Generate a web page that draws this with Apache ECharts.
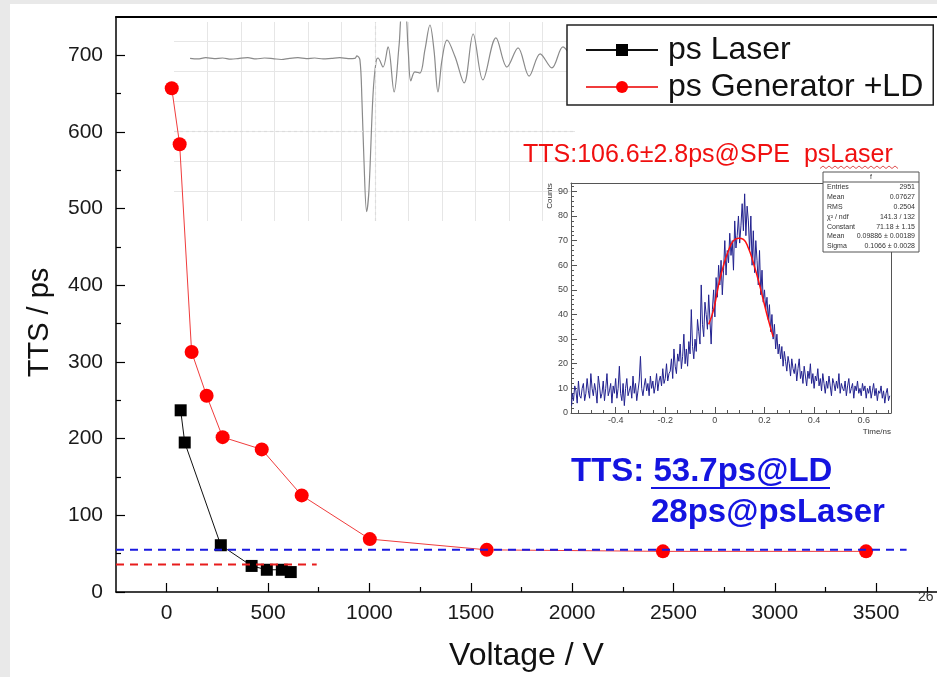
<!DOCTYPE html>
<html><head><meta charset="utf-8">
<script src="https://cdn.jsdelivr.net/npm/echarts@6/dist/echarts.min.js"></script>
<style>html,body{margin:0;padding:0;background:#fff}#c{width:937px;height:677px}</style>
</head><body><div id="c"></div>
<script>
// ---- main chart data ----
const laserVoltage = [69, 89, 267, 419, 494, 568, 612];
const laserTTS     = [237, 195, 61, 34, 29, 29, 26];
const genVoltage   = [25, 64, 123, 197, 276, 469, 666, 1002, 1579, 2448, 3450];
const genTTS       = [657, 584, 313, 256, 202, 186, 126, 69, 55, 53, 53];
const blueRefX = [-250, 3650];
const blueRefY = [55, 55];
const redRefX  = [-250, 740];
const redRefY  = [36, 36];
const xTickLabels = [0, 500, 1000, 1500, 2000, 2500, 3000, 3500];
const xMinorTicks = [250, 750, 1250, 1750, 2250, 2750, 3250, 3750];
const yTickLabels = [0, 100, 200, 300, 400, 500, 600, 700];
const yMinorTicks = [50, 150, 250, 350, 450, 550, 650];

// ---- waveform inset (oscilloscope divisions) ----
const waveX = [-5.52,-5.3,-5.05,-4.8,-4.55,-4.3,-4.05,-3.8,-3.55,-3.3,-3.05,-2.8,-2.55,-2.3,-2.05,-1.8,-1.55,-1.3,-1.05,-0.8,-0.6,
  -0.54,-0.45,-0.39,-0.33,-0.25,-0.18,-0.06,0.03,0.09,0.24,0.39,0.57,0.72,0.81,0.9,0.99,1.07,1.19,1.34,1.49,1.64,1.76,1.88,2.0,2.15,2.39,2.66,2.93,3.22,3.61,3.94,4.27,4.6,4.93,5.28,5.61,5.82];
const waveY = [2.42,2.40,2.44,2.41,2.43,2.39,2.42,2.44,2.40,2.43,2.41,2.38,2.42,2.44,2.41,2.43,2.40,2.42,2.44,2.41,2.42,
  2.5,2.37,1.03,-0.97,-2.69,-1.97,1.2,2.3,2.43,2.13,2.8,1.3,2.87,4.0,4.0,2.7,1.67,1.97,1.93,2.7,3.53,2.7,1.3,2.37,3.03,2.47,1.6,3.23,1.7,3.1,2.13,2.77,1.83,2.57,2.1,2.8,2.53];

// ---- histogram inset ----
const histMin = -0.58;
const histBinWidth = 0.005;
const histCounts = [
  3,8,5,11,9,4,13,7,6,10,12,5,8,14,9,6,16,10,7,12,
  9,4,15,11,6,8,13,5,10,16,7,9,12,4,11,8,14,6,10,19,
  8,5,12,3,10,14,7,9,11,6,15,8,12,5,9,13,23,10,7,11,
  14,9,12,7,15,10,13,8,11,16,9,13,15,11,18,12,14,20,13,16,
  17,22,14,26,19,16,24,21,28,18,23,32,20,26,19,29,24,42,27,22,
  30,25,38,33,28,52,36,31,45,40,34,48,38,28,42,50,39,55,47,60,
  52,62,48,58,70,56,66,61,73,64,70,58,78,67,72,80,69,76,85,74,
  89,72,84,78,66,80,60,74,57,70,62,52,66,48,58,45,50,42,47,38,
  44,33,40,30,36,26,32,24,28,22,27,19,25,21,17,23,20,15,22,18,
  16,20,13,18,22,14,17,12,19,15,11,17,14,20,12,16,10,15,13,18,
  11,14,9,16,12,8,13,10,15,11,7,14,12,9,13,10,16,8,12,10,
  9,13,7,11,14,8,10,12,6,11,9,13,8,10,7,12,9,11,6,10,
  8,11,6,9,12,7,10,5,9,8,11,6,9,4,8,10,5,7];
const fitX = [-0.025,-0.005,0.015,0.035,0.055,0.075,0.095,0.115,0.135,0.155,0.175,0.195,0.215,0.235];
const fitY = [36,42,52,60,66,70,71,70.5,67,61,54,46,38,31];
const histXLabels = [-0.4,-0.2,0,0.2,0.4,0.6];
const histYLabels = [0,10,20,30,40,50,60,70,80,90];
const statsLabels = ['Entries','Mean','RMS','\u03c7\u00b2 / ndf','Constant','Mean','Sigma'];
const statsValues = ['2951','0.07627','0.2504','141.3 / 132','71.18 \u00b1 1.15','0.09886 \u00b1 0.00189','0.1066 \u00b1 0.0028'];

const FONT = '"Liberation Sans", Arial, Helvetica, sans-serif';
const zip = (a, b) => a.map((v, i) => [v, b[i]]);
const histData = histCounts.map((c, i) => [histMin + histBinWidth * (i + 0.5), c]);
const histXMinor = [];
for (let v = -55; v <= 70; v += 5) { if (v % 20 !== 0) histXMinor.push(v / 100); }
const histYMinor = [];
for (let v = 2; v <= 92; v += 2) { if (v % 10 !== 0) histYMinor.push(v); }
const plain = v => String(v);

const chart = echarts.init(document.getElementById('c'), null, {renderer: 'canvas'});

const graphics = [
  {type: 'rect', shape: {x: 0, y: 0, width: 10, height: 677}, style: {fill: '#e9e9e9'}, z: 0},
  {type: 'rect', shape: {x: 0, y: 0, width: 937, height: 4}, style: {fill: '#e9e9e9'}, z: 0},
  {type: 'text', x: 523, y: 155, z: 100, style: {text: 'TTS:106.6\u00b12.8ps@SPE  psLaser', fill: '#f01010', font: '25px ' + FONT, verticalAlign: 'middle'}},
  {type: 'text', x: 571, y: 472, z: 100, style: {text: 'TTS: 53.7ps@LD', fill: '#1414e0', font: 'bold 33px ' + FONT, verticalAlign: 'middle'}},
  {type: 'line', z: 100, shape: {x1: 651, y1: 488, x2: 830, y2: 488}, style: {stroke: '#1414e0', lineWidth: 2}},
  {type: 'text', x: 651, y: 513, z: 100, style: {text: '28ps@psLaser', fill: '#1414e0', font: 'bold 33px ' + FONT, verticalAlign: 'middle'}},
  {type: 'text', x: 918, y: 597, z: 100, style: {text: '26', fill: '#333', font: '14px ' + FONT, verticalAlign: 'middle'}},
  {type: 'text', x: 550, y: 196, z: 100, rotation: Math.PI / 2, style: {text: 'Counts', fill: '#333', font: '8px ' + FONT, align: 'center', verticalAlign: 'middle'}},
  {type: 'text', x: 891, y: 432, z: 100, style: {text: 'Time/ns', fill: '#333', font: '8px ' + FONT, align: 'right', verticalAlign: 'middle'}},
  {type: 'rect', z: 100, shape: {x: 823, y: 172, width: 96, height: 80}, style: {fill: '#fff', stroke: '#555', lineWidth: 1}},
  {type: 'line', z: 100, shape: {x1: 823, y1: 182, x2: 919, y2: 182}, style: {stroke: '#555', lineWidth: 1}},
  {type: 'text', x: 871, y: 177, z: 101, style: {text: 'f', fill: '#333', font: '7px ' + FONT, align: 'center', verticalAlign: 'middle'}}
];
// wavy spell-check underline under "psLaser"
const wavy = [];
for (let i = 0; i <= 26; i++) wavy.push([820 + i * 3, i % 2 ? 166 : 168.5]);
graphics.push({type: 'polyline', z: 100, shape: {points: wavy}, style: {stroke: '#e05050', lineWidth: 1, fill: null}});
statsLabels.forEach((t, i) => {
  graphics.push({type: 'text', x: 827, y: 187.5 + i * 9.8, z: 101, style: {text: t, fill: '#333', font: '7px ' + FONT, verticalAlign: 'middle'}});
  graphics.push({type: 'text', x: 915, y: 187.5 + i * 9.8, z: 101, style: {text: statsValues[i], fill: '#333', font: '7px ' + FONT, align: 'right', verticalAlign: 'middle'}});
});

const noLine = {show: false};
const option = {
  backgroundColor: '#fff',
  animation: false,
  textStyle: {fontFamily: FONT},
  grid: [
    {left: 116, top: 17, right: 0, bottom: 84},
    {left: 174, top: 22, width: 401, height: 199},
    {left: 571, top: 183, width: 320, height: 230}
  ],
  legend: {
    data: ['ps Laser', 'ps Generator +LD'],
    orient: 'vertical', left: 567, top: 25,
    backgroundColor: '#fff', borderColor: '#222', borderWidth: 1.5,
    padding: [8, 10, 1, 18], itemWidth: 72, itemHeight: 15, itemGap: 3,
    textStyle: {fontSize: 32, color: '#111', fontFamily: FONT, lineHeight: 34, padding: [0, 0, 0, 5]},
    z: 50
  },
  xAxis: [
    {type: 'value', gridIndex: 0, min: -250, max: 3800, position: 'bottom',
     name: 'Voltage / V', nameLocation: 'middle', nameGap: 48,
     nameTextStyle: {fontSize: 32, color: '#111', fontFamily: FONT},
     axisLine: {onZero: false, lineStyle: {color: '#000', width: 1.5}},
     axisTick: {inside: true, length: 9, customValues: xTickLabels, lineStyle: {color: '#000', width: 1.2}},
     axisLabel: {customValues: xTickLabels, formatter: plain, fontSize: 21, color: '#1a1a1a', margin: 11, fontFamily: FONT},
     splitLine: noLine},
    {type: 'value', gridIndex: 0, min: -250, max: 3800, position: 'bottom',
     axisLine: {show: false, onZero: false}, axisLabel: noLine, splitLine: noLine,
     axisTick: {inside: true, length: 5, customValues: xMinorTicks, lineStyle: {color: '#000', width: 1.2}}},
    {type: 'value', gridIndex: 0, min: -250, max: 3800, position: 'top',
     axisLine: {onZero: false, lineStyle: {color: '#000', width: 2}}, axisTick: noLine, axisLabel: noLine, splitLine: noLine},
    {type: 'value', gridIndex: 1, min: -6, max: 5.97, interval: 1,
     axisLine: {show: false, onZero: false}, axisTick: noLine, axisLabel: noLine,
     splitLine: {show: true, showMinLine: false, showMaxLine: false, lineStyle: {color: '#e6e6e6', width: 1}}},
    {type: 'value', gridIndex: 2, min: -0.58, max: 0.71, position: 'bottom',
     axisLine: {onZero: false, lineStyle: {color: '#555', width: 1}},
     axisTick: {inside: true, length: 6, customValues: histXLabels, lineStyle: {color: '#555'}},
     axisLabel: {customValues: histXLabels, fontSize: 9, color: '#444', margin: 3, fontFamily: FONT},
     splitLine: noLine},
    {type: 'value', gridIndex: 2, min: -0.58, max: 0.71, position: 'bottom',
     axisLine: {show: false, onZero: false}, axisLabel: noLine, splitLine: noLine,
     axisTick: {inside: true, length: 3, customValues: histXMinor, lineStyle: {color: '#555'}}},
    {type: 'value', gridIndex: 2, min: -0.58, max: 0.71, position: 'top',
     axisLine: {onZero: false, lineStyle: {color: '#555', width: 1}}, axisTick: noLine, axisLabel: noLine, splitLine: noLine}
  ],
  yAxis: [
    {type: 'value', gridIndex: 0, min: 0, max: 750, position: 'left',
     name: 'TTS / ps', nameLocation: 'middle', nameGap: 62, nameRotate: 90,
     nameTextStyle: {fontSize: 29, color: '#111', fontFamily: FONT, padding: [0, 36, 0, 0]},
     axisLine: {onZero: false, lineStyle: {color: '#000', width: 1.5}},
     axisTick: {inside: true, length: 9, customValues: yTickLabels, lineStyle: {color: '#000', width: 1.2}},
     axisLabel: {customValues: yTickLabels, formatter: plain, fontSize: 21, color: '#1a1a1a', margin: 13, fontFamily: FONT},
     splitLine: noLine},
    {type: 'value', gridIndex: 0, min: 0, max: 750, position: 'left',
     axisLine: {show: false, onZero: false}, axisLabel: noLine, splitLine: noLine,
     axisTick: {inside: true, length: 5, customValues: yMinorTicks, lineStyle: {color: '#000', width: 1.2}}},
    {type: 'value', gridIndex: 1, min: -3, max: 3.63, interval: 1,
     axisLine: {show: false, onZero: false}, axisTick: noLine, axisLabel: noLine,
     splitLine: {show: true, showMinLine: false, showMaxLine: false, lineStyle: {color: '#e6e6e6', width: 1}}},
    {type: 'value', gridIndex: 2, min: 0, max: 93.4, position: 'left',
     axisLine: {onZero: false, lineStyle: {color: '#555', width: 1}},
     axisTick: {inside: true, length: 6, customValues: histYLabels, lineStyle: {color: '#555'}},
     axisLabel: {customValues: histYLabels, fontSize: 9, color: '#444', margin: 3, fontFamily: FONT},
     splitLine: noLine},
    {type: 'value', gridIndex: 2, min: 0, max: 93.4, position: 'left',
     axisLine: {show: false, onZero: false}, axisLabel: noLine, splitLine: noLine,
     axisTick: {inside: true, length: 3, customValues: histYMinor, lineStyle: {color: '#555'}}},
    {type: 'value', gridIndex: 2, min: 0, max: 93.4, position: 'right',
     axisLine: {onZero: false, lineStyle: {color: '#555', width: 1}}, axisTick: noLine, axisLabel: noLine, splitLine: noLine}
  ],
  series: [
    {name: 'waveform', type: 'line', xAxisIndex: 3, yAxisIndex: 2, data: zip(waveX, waveY),
     showSymbol: false, symbol: 'none', smooth: 0.35, clip: true,
     lineStyle: {color: '#8a8a8a', width: 1.2}, z: 1, silent: true,
     markLine: {silent: true, symbol: 'none', label: {show: false},
       lineStyle: {color: '#dcdcdc', type: [3, 3], width: 1.2},
       data: [{xAxis: 0}, {yAxis: 0}]}},
    {name: 'histogram', type: 'line', xAxisIndex: 4, yAxisIndex: 3, data: histData,
     step: 'middle', showSymbol: false, symbol: 'none',
     lineStyle: {color: '#22228f', width: 1}, z: 2, silent: true},
    {name: 'fit', type: 'line', xAxisIndex: 4, yAxisIndex: 3, data: zip(fitX, fitY),
     smooth: true, showSymbol: false, symbol: 'none',
     lineStyle: {color: '#ff1010', width: 1.5}, z: 3, silent: true},
    {name: 'ps Laser', type: 'line', xAxisIndex: 0, yAxisIndex: 0, data: zip(laserVoltage, laserTTS),
     symbol: 'rect', symbolSize: 12, itemStyle: {color: '#000'},
     lineStyle: {color: '#111', width: 1}, z: 5},
    {name: 'ps Generator +LD', type: 'line', xAxisIndex: 0, yAxisIndex: 0, data: zip(genVoltage, genTTS),
     symbol: 'circle', symbolSize: 14, itemStyle: {color: '#ff0000'},
     lineStyle: {color: '#f03c3c', width: 1}, z: 5},
    {name: 'blueRef', type: 'line', xAxisIndex: 0, yAxisIndex: 0, data: zip(blueRefX, blueRefY),
     symbol: 'none', lineStyle: {color: '#1a1ae0', width: 2, type: [8, 6]}, z: 6, silent: true},
    {name: 'redRef', type: 'line', xAxisIndex: 0, yAxisIndex: 0, data: zip(redRefX, redRefY),
     symbol: 'none', lineStyle: {color: '#e81c1c', width: 2, type: [8, 6]}, z: 6, silent: true}
  ],
  graphic: graphics
};
chart.setOption(option);
</script>
</body></html>
